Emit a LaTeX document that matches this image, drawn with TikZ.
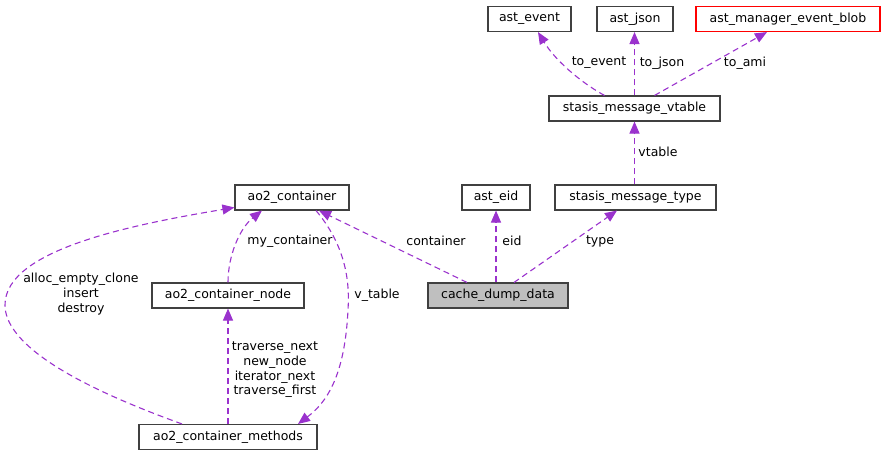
\documentclass[tikz,border=0pt]{standalone}
\usepackage{fontspec}
\setmainfont{DejaVu Sans}
\usetikzlibrary{arrows.meta}
\definecolor{edgec}{HTML}{9A32CD}
\definecolor{boxc}{HTML}{404040}
\begin{document}
\begin{tikzpicture}[x=1pt,y=-1pt,
  box/.style={draw=boxc, line width=1.1pt, fill=white, minimum height=25pt, inner sep=0pt,
    font=\fontsize{12.5}{14.7}\selectfont},
  rel/.style={draw=edgec, line width=1.1pt, dash pattern=on 6pt off 4pt,
    -{Triangle[length=12pt,width=10pt,fill=edgec]}},
  lbl/.style={font=\fontsize{12.5}{14.7}\selectfont, inner sep=0pt, align=center}]
\useasboundingbox (0,0) rectangle (886,456);
% nodes
\node[box, minimum width=83pt] (ev) at (529.5,19) {ast\_event};
\node[box, minimum width=76pt] (js) at (635,19) {ast\_json};
\node[box, minimum width=184pt, draw=red] (am) at (788,19) {ast\_manager\_event\_blob};
\node[box, minimum width=171pt] (vt) at (634.5,108.5) {stasis\_message\_vtable};
\node[box, minimum width=161pt] (smt) at (635.5,197.5) {stasis\_message\_type};
\node[box, minimum width=68pt] (eid) at (496,197.5) {ast\_eid};
\node[box, minimum width=140pt, fill={rgb,255:red,191;green,191;blue,191}] (cdd) at (498,295.5) {cache\_dump\_data};
\node[box, minimum width=114pt] (ao) at (292,197.5) {ao2\_container};
\node[box, minimum width=152pt] (acn) at (228,295.5) {ao2\_container\_node};
\node[box, minimum width=178pt] (acm) at (228,437) {ao2\_container\_methods};
% edges
\draw[rel] ([xshift=-30]vt.north) .. controls (580,82) and (555,60) .. ([xshift=8.5]ev.south);
\draw[rel] (vt.north) -- (vt.north |- js.south);
\draw[rel] ([xshift=20]vt.north) -- ([xshift=-21]am.south);
\draw[rel] (smt.north -| vt.south) -- (vt.south);
\draw[rel] ([xshift=-31]cdd.north) -- ([xshift=27]ao.south);
\draw[rel] (cdd.north -| eid.south) -- (eid.south);
\draw[rel] ([xshift=16]cdd.north) -- ([xshift=-18.5]smt.south);
\draw[rel] (acn.north) .. controls (228,255) and (240,228) .. ([xshift=-30]ao.south);
\draw[rel] (acm.north) -- (acn.south);
\draw[rel] ([xshift=-46]acm.north) .. controls (60,380) and (5,340) .. (5,305)
   .. controls (5,250) and (130,225) .. ([yshift=-10]ao.west);
\draw[rel] ([xshift=24]ao.south) .. controls (345,245) and (350,280) .. (348,310)
   .. controls (345,370) and (330,400) .. ([xshift=70]acm.north);
% labels
\node[lbl] (l1) at (599,63) {to\_event};
\node[lbl] (l2) at (662,63) {to\_json};
\node[lbl] (l3) at (745,63) {to\_ami};
\node[lbl] (l4) at (658,152) {vtable};
\node[lbl] (l5) at (436,241) {container};
\node[lbl] (l6) at (512,241) {eid};
\node[lbl] (l7) at (600,241) {type};
\node[lbl] (l8) at (290,241) {my\_container};
\node[lbl] (l9) at (377,295) {v\_table};
\node[lbl] (l10) at (81,294) {alloc\_empty\_clone\\insert\\destroy};
\node[lbl] (l11) at (275,370) {traverse\_next\\new\_node\\iterator\_next\\traverse\_first};
\end{tikzpicture}
\end{document}
